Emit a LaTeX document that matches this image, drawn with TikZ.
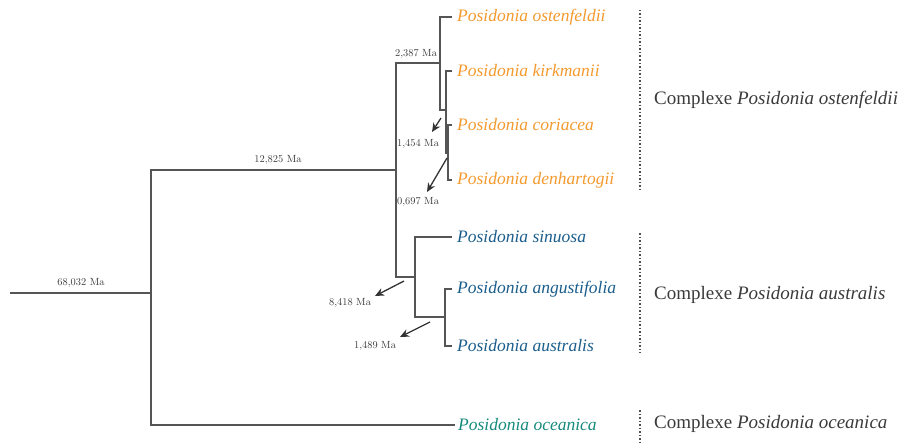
\documentclass[tikz,border=0pt]{standalone}
\usepackage{fontspec}
\setmainfont{Liberation Serif}
\newfontfamily\lmfont{Latin Modern Roman}
\usetikzlibrary{arrows.meta}
\definecolor{branchgrey}{HTML}{555555}
\definecolor{labgrey}{HTML}{3A3A3A}
\definecolor{orangetx}{HTML}{F39A2E}
\definecolor{bluetx}{HTML}{1B5E8C}
\definecolor{tealtx}{HTML}{168A7C}
\tikzset{
  br/.style={draw=branchgrey, line width=1.4pt},
  taxon/.style={anchor=west, inner xsep=5pt, inner ysep=0pt, font=\fontsize{17.5}{19}\selectfont\itshape},
  ma/.style={inner sep=0pt, text=labgrey, font=\lmfont\fontsize{10.4}{12}\selectfont},
  arr/.style={draw=black!80, fill=black!80, line width=1.3pt, -{Stealth[length=9pt,width=8pt]}},
  cplx/.style={anchor=west, inner sep=0pt, text=labgrey, font=\fontsize{19}{22}\selectfont},
  sep/.style={draw=labgrey!90, line width=1.5pt, dotted}
}
\begin{document}
\begin{tikzpicture}[x=1pt,y=-1pt]
\useasboundingbox (0,0) rectangle (901,444);
% taxa
\node[taxon, text=orangetx] (ost) at (452,17) {Posidonia ostenfeldii};
\node[taxon, text=orangetx] (kir) at (452,71) {Posidonia kirkmanii};
\node[taxon, text=orangetx] (cor) at (452,125) {Posidonia coriacea};
\node[taxon, text=orangetx] (den) at (452,180) {Posidonia denhartogii};
\node[taxon, text=bluetx] (sin) at (452,237) {Posidonia sinuosa};
\node[taxon, text=bluetx] (ang) at (452,289) {Posidonia angustifolia};
\node[taxon, text=bluetx] (aus) at (452,346) {Posidonia australis};
\node[taxon, text=tealtx, inner xsep=3pt] (oce) at (455,425) {Posidonia oceanica};
% internal coordinates
\coordinate (r0) at (10,293);
\coordinate (n1) at (151,293);
\coordinate (n2) at (396,170);
\coordinate (c3) at (440,63);
\coordinate (c4) at (446,110);
\coordinate (c5) at (448,153);
\coordinate (c6) at (415,277);
\coordinate (c7) at (445,317);
% branches
\draw[br] (r0) -- (n1);
\draw[br] (oce.west) -| (n1) |- (n2);
\draw[br] (c3) -| (n2) |- (c6);
\draw[br] (ost.west) -| (c3) |- (c4);
\draw[br] (kir.west) -| (c4) |- (c5);
\draw[br] (cor.west) -| (c5) |- (den.west);
\draw[br] (sin.west) -| (c6) |- (c7);
\draw[br] (ang.west) -| (c7) |- (aus.west);
% ages
\node[ma] (m68) at (81,283) {68,032 Ma};
\node[ma] (m12) at (278,160) {12,825 Ma};
\node[ma] (m23) at (416,54) {2,387 Ma};
\node[ma] (m14) at (418,144) {1,454 Ma};
\node[ma] (m06) at (418,202) {0,697 Ma};
\node[ma] (m84) at (350,303) {8,418 Ma};
\node[ma] (m148) at (375,346) {1,489 Ma};
% arrows
\coordinate (a14s) at (441,118); \coordinate (a14e) at (432,132);
\coordinate (a06s) at (447,158); \coordinate (a06e) at (427,192);
\coordinate (a84s) at (404,281); \coordinate (a84e) at (375,296);
\coordinate (a148s) at (430,322); \coordinate (a148e) at (400,337);
\draw[arr] (a14s) -- (a14e);
\draw[arr] (a06s) -- (a06e);
\draw[arr] (a84s) -- (a84e);
\draw[arr] (a148s) -- (a148e);
% complexes
\coordinate (d1a) at (640,10); \coordinate (d1b) at (640,190);
\coordinate (d2a) at (640,233); \coordinate (d2b) at (640,353);
\coordinate (d3a) at (640,410); \coordinate (d3b) at (640,442);
\draw[sep] (d1a) -- (d1b);
\draw[sep] (d2a) -- (d2b);
\draw[sep] (d3a) -- (d3b);
\node[cplx] (k1) at (654,100) {Complexe \textit{Posidonia ostenfeldii}};
\node[cplx] (k2) at (654,295) {Complexe \textit{Posidonia australis}};
\node[cplx] (k3) at (654,424) {Complexe \textit{Posidonia oceanica}};
\end{tikzpicture}
\end{document}
